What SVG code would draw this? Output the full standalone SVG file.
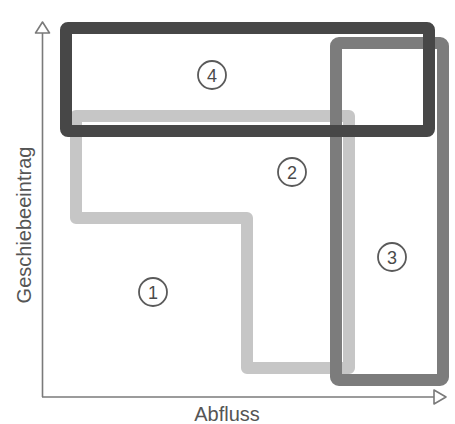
<svg xmlns="http://www.w3.org/2000/svg" width="455" height="424" viewBox="0 0 455 424">
<defs>
<style>
.axis{fill:none;stroke:#7a7a7a;stroke-width:1.6}
.head{fill:#fff;stroke:#7a7a7a;stroke-width:1.6;stroke-linejoin:round}
.lbl{font-family:"Liberation Sans",Arial,sans-serif;font-size:20px;fill:#555}
.num{font-family:"Liberation Sans",Arial,sans-serif;font-size:18px;fill:#4a4a4a;text-anchor:middle}
.ring{fill:#fff;stroke:#5a5a5a;stroke-width:1.8}
.b2{fill:none;stroke:#c6c6c6;stroke-width:12;stroke-linejoin:round}
.b3{fill:none;stroke:#7c7c7c;stroke-width:12;stroke-linejoin:round}
.b4{fill:none;stroke:#474747;stroke-width:12;stroke-linejoin:round}
</style>
</defs>
<rect width="455" height="424" fill="#fff"/>
<g id="connectors">
<line class="axis" x1="42.5" y1="32" x2="42.5" y2="397"/>
<line class="axis" x1="42" y1="397" x2="434" y2="397"/>
<polygon class="head" points="42.5,22 35.5,33 49.5,33"/>
<polygon class="head" points="446,397 434,390 434,404"/>
</g>
<g id="area2">
<polygon class="b2" points="76,116 349,116 349,368 247,368 247,218 76,218"/>
</g>
<g id="area3">
<rect class="b3" x="336" y="43" width="107" height="337" rx="3"/>
</g>
<g id="area4">
<rect class="b4" x="66" y="28" width="363" height="103" rx="2"/>
</g>
<g id="label4">
<circle class="ring" cx="212" cy="75" r="14"/>
<text class="num" x="212" y="81.5">4</text>
</g>
<g id="label2">
<circle class="ring" cx="292" cy="172" r="14"/>
<text class="num" x="292" y="178.5">2</text>
</g>
<g id="label3">
<circle class="ring" cx="392" cy="257" r="14"/>
<text class="num" x="392" y="263.5">3</text>
</g>
<g id="label1">
<circle class="ring" cx="153" cy="292" r="14"/>
<text class="num" x="153" y="298.5">1</text>
</g>
<g id="axis-labels">
<text class="lbl" text-anchor="middle" x="227" y="421">Abfluss</text>
<text class="lbl" text-anchor="middle" transform="translate(31,225) rotate(-90)">Geschiebeeintrag</text>
</g>
</svg>
